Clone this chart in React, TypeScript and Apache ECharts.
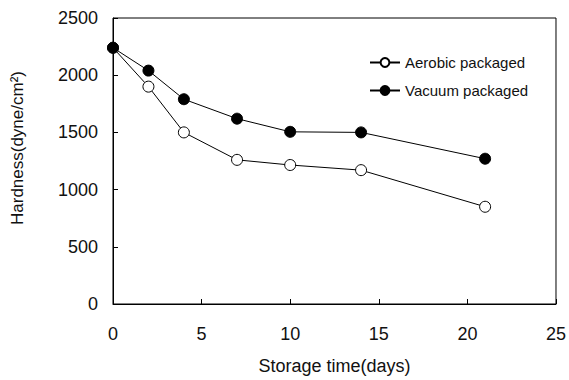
import React, { useEffect, useRef } from "react";
import * as echarts from "echarts";

const days = [0, 2, 4, 7, 10, 14, 21];
const aerobic = [2240, 1900, 1500, 1260, 1215, 1170, 850];
const vacuum = [2240, 2040, 1790, 1620, 1505, 1500, 1270];
const seriesNames = ["Aerobic packaged", "Vacuum packaged"];

export default function App() {
  const ref = useRef<HTMLDivElement>(null);
  useEffect(() => {
    const chart = echarts.init(ref.current!, null, { renderer: "svg" });
    const font = "'Liberation Sans', Arial, sans-serif";
    chart.setOption({
      animation: false,
      backgroundColor: "#fff",
      grid: {
        left: 113,
        right: 13,
        top: 18,
        bottom: 73,
        show: true,
        borderColor: "#000",
        borderWidth: 1,
        backgroundColor: "transparent",
      },
      legend: {
        orient: "vertical",
        left: 364,
        top: 50,
        itemGap: 13,
        itemWidth: 30,
        itemHeight: 11,
        data: seriesNames,
        textStyle: { fontFamily: font, fontSize: 15, color: "#111" },
      },
      xAxis: {
        type: "value",
        min: 0,
        max: 25,
        interval: 5,
        name: "Storage time(days)",
        nameLocation: "middle",
        nameGap: 53,
        nameTextStyle: { fontFamily: font, fontSize: 18, color: "#111" },
        axisLine: { show: true, lineStyle: { color: "#000", width: 1 } },
        axisTick: { show: true, inside: true, length: 5, lineStyle: { color: "#000" } },
        axisLabel: { fontFamily: font, fontSize: 18, color: "#111", margin: 21 },
        splitLine: { show: false },
      },
      yAxis: {
        type: "value",
        min: 0,
        max: 2500,
        interval: 500,
        name: "Hardness(dyne/cm²)",
        nameLocation: "middle",
        nameGap: 87,
        nameTextStyle: { fontFamily: font, fontSize: 17, color: "#111", padding: [0, 0, 0, 26] },
        axisLine: { show: true, lineStyle: { color: "#000", width: 1 } },
        axisTick: { show: true, inside: true, length: 5, lineStyle: { color: "#000" } },
        axisLabel: {
          fontFamily: font,
          fontSize: 18,
          color: "#111",
          margin: 15,
          formatter: (v: number) => String(v),
        },
        splitLine: { show: false },
      },
      series: [
        {
          name: seriesNames[0],
          type: "line",
          data: days.map((d, i) => [d, aerobic[i]]),
          symbol: "circle",
          symbolSize: 11,
          lineStyle: { color: "#000", width: 1 },
          itemStyle: { color: "#fff", borderColor: "#000", borderWidth: 1 },
          z: 2,
        },
        {
          name: seriesNames[1],
          type: "line",
          data: days.map((d, i) => [d, vacuum[i]]),
          symbol: "circle",
          symbolSize: 11,
          lineStyle: { color: "#000", width: 1 },
          itemStyle: { color: "#000", borderColor: "#000", borderWidth: 1 },
          z: 3,
        },
      ],
    });
    return () => chart.dispose();
  }, []);
  return <div ref={ref} style={{ width: 569, height: 380, position: "absolute", left: 0, top: 0 }} />;
}
